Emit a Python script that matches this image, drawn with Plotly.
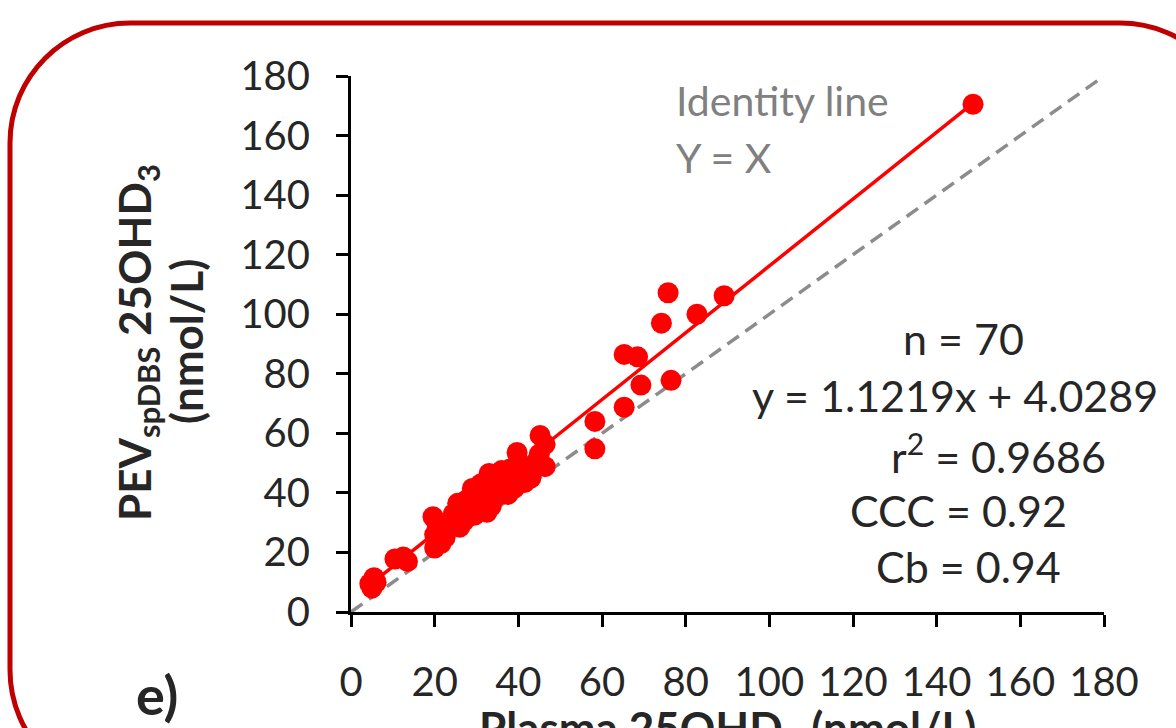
import plotly.graph_objects as go

# Plasma 25OHD3 (x) vs PEV spDBS 25OHD3 (y), nmol/L
plasma = [148.7, 89.2, 82.7, 75.8, 74.2, 76.5, 65.3, 68.5, 69.3, 65.3,
          58.3, 58.3, 45.2, 46.4, 46.4, 45.0, 39.7, 40.5, 41.5, 38.0,
          36.0, 35.5, 37.0, 34.0, 33.0, 32.0, 31.0, 30.5, 29.0, 28.5,
          27.5, 29.5, 26.5, 25.5, 25.0, 24.0, 23.0, 22.0, 21.0, 20.0,
          19.6, 20.5, 20.0, 21.5, 13.5, 10.5, 12.5, 5.5, 5.0, 6.0,
          4.5, 36.5, 34.5, 31.5, 38.5, 43.0, 44.0, 42.0, 27.0, 28.0,
          33.5, 35.0, 26.0, 40.0, 30.0, 24.5, 22.5, 37.5, 39.0, 32.5]
pev = [170.5, 106.2, 100.0, 107.2, 97.0, 77.8, 86.5, 85.7, 76.2, 68.8,
       64.0, 54.8, 59.3, 56.3, 48.8, 53.0, 53.6, 46.0, 43.5, 48.0,
       47.5, 44.0, 41.0, 42.5, 46.5, 40.0, 43.0, 38.0, 41.5, 35.0,
       37.5, 32.5, 33.5, 36.5, 31.0, 29.5, 27.5, 28.5, 25.5, 21.5,
       32.0, 30.0, 26.0, 23.0, 17.0, 17.8, 18.5, 11.5, 8.0, 10.0,
       9.5, 45.5, 38.5, 36.0, 43.0, 45.0, 50.0, 48.5, 30.5, 32.0,
       35.5, 40.5, 28.5, 50.5, 34.0, 33.0, 25.0, 39.5, 41.5, 33.5]

slope, intercept = 1.1219, 4.0289
tick_vals = [0, 20, 40, 60, 80, 100, 120, 140, 160, 180]
stats_lines = ["n = 70", "y = 1.1219x + 4.0289", "r<sup>2</sup> = 0.9686",
               "CCC = 0.92", "Cb = 0.94"]

W, H = 1176, 728
ML, MR, MT, MB = 351, 72, 76, 116
PW, PH = W - ML - MR, H - MT - MB


def px(x):
    return (x - ML) / PW


def py(y):
    return (H - MB - y) / PH


FONT = "Lato"
TXT = "#262626"

fig = go.Figure()

# identity line Y = X
fig.add_trace(go.Scatter(x=[0, 180], y=[0, 180], mode="lines",
                         line=dict(color="#8c8c8c", width=3.5, dash="14px,8px"),
                         hoverinfo="skip", showlegend=False))

# fitted regression line
x0, x1 = min(plasma), max(plasma)
fig.add_trace(go.Scatter(x=[x0, x1], y=[slope * x0 + intercept, slope * x1 + intercept],
                         mode="lines", line=dict(color="#ff0000", width=3.5),
                         hoverinfo="skip", showlegend=False))

# individual samples
fig.add_trace(go.Scatter(x=plasma, y=pev, mode="markers",
                         marker=dict(color="#ff0000", size=21, line=dict(width=0)),
                         cliponaxis=False, showlegend=False))

axis_common = dict(range=[0, 180], tickvals=tick_vals, showgrid=False, zeroline=False,
                   showline=True, linecolor="black", linewidth=3,
                   ticks="outside", ticklen=12, tickwidth=3, tickcolor="black",
                   tickfont=dict(family=FONT, size=40, color=TXT))

fig.update_xaxes(**axis_common, ticklabelstandoff=21)
fig.update_yaxes(**axis_common, ticklabelstandoff=18)

# rounded red frame
r = 120
k = 0.5523 * r
L, T, R, B = 10, 23, 1240, 790


def P(x, y):
    return f"{px(x):.5f},{py(y):.5f}"


frame = (f"M {P(L + r, T)} L {P(R - r, T)} "
         f"C {P(R - r + k, T)} {P(R, T + r - k)} {P(R, T + r)} "
         f"L {P(R, B - r)} "
         f"C {P(R, B - r + k)} {P(R - r + k, B)} {P(R - r, B)} "
         f"L {P(L + r, B)} "
         f"C {P(L + r - k, B)} {P(L, B - r + k)} {P(L, B - r)} "
         f"L {P(L, T + r)} "
         f"C {P(L, T + r - k)} {P(L + r - k, T)} {P(L + r, T)} Z")
fig.add_shape(type="path", path=frame, xref="paper", yref="paper",
              line=dict(color="#c00000", width=5), layer="below")

annotations = []


def note(text, x, y, size, color=TXT, bold=False, xanchor="center", angle=0):
    if bold:
        text = f"<b>{text}</b>"
    annotations.append(dict(text=text, x=px(x), y=py(y), xref="paper", yref="paper",
                            showarrow=False, xanchor=xanchor, yanchor="middle",
                            textangle=angle,
                            font=dict(family=FONT, size=size, color=color)))


note("Identity line", 674, 100, 41, color="#808080", xanchor="left")
note("Y = X", 674, 157, 41, color="#808080", xanchor="left")

stat_pos = [(963, 338), (955, 395), (998, 453), (958, 510), (968, 566)]
for t, (sx, sy) in zip(stats_lines, stat_pos):
    note(t, sx, sy, 43)

note("PEV<sub>spDBS</sub> 25OHD<sub>3</sub>", 137, 342, 44, bold=True, angle=-90)
note("(nmol/L)", 186, 342, 44, bold=True, angle=-90)
note("Plasma 25OHD<sub>3</sub> (nmol/L)", 727, 730, 44, bold=True)
note("e)", 157, 694, 54, bold=True)

fig.update_layout(width=W, height=H, margin=dict(l=ML, r=MR, t=MT, b=MB),
                  plot_bgcolor="white", paper_bgcolor="white",
                  annotations=annotations, showlegend=False)

fig.write_html("out.html")
